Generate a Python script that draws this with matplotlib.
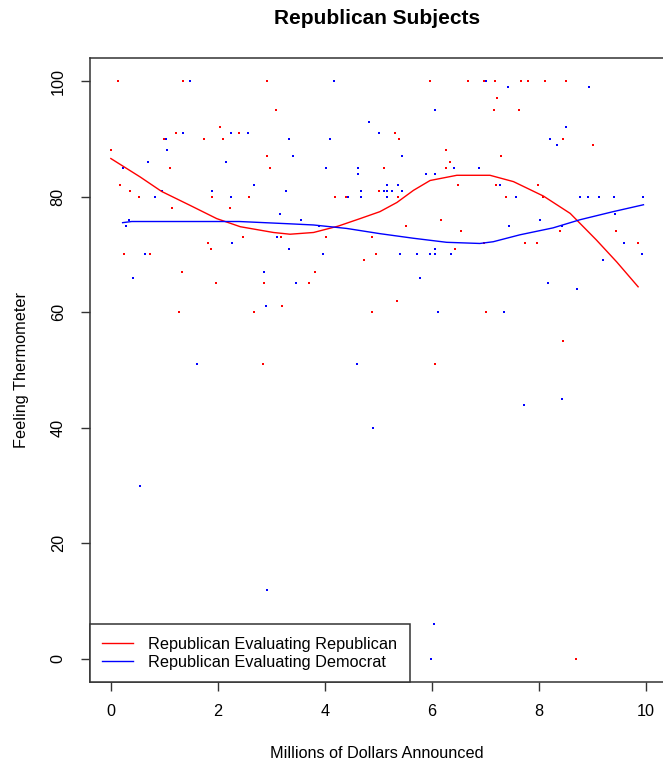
import matplotlib
matplotlib.use("Agg")
import matplotlib.pyplot as plt
from matplotlib.lines import Line2D

plt.rcParams['font.family'] = ['Liberation Sans', 'DejaVu Sans']

# Republican evaluating Republican (red points)
red_x = [0.14, 1.35, 2.92, 3.08, 2.04, 1.21, 2.39, 1.00, 1.74, 2.10, 0.00, 2.92, 1.11, 2.98,
         0.17, 0.35, 0.52, 1.90, 2.59, 1.15, 2.22, 2.47, 3.18, 1.82, 1.88, 0.24, 0.73, 1.33,
         1.96, 2.87, 3.20, 1.27, 2.68,
         5.96, 6.68, 5.31, 5.39, 6.27, 6.34, 5.11, 6.27, 6.49, 4.20, 4.40, 5.01, 5.37, 5.51,
         6.18, 6.55, 4.02, 4.89, 6.44, 4.95, 4.73, 3.81, 3.71, 5.35, 4.88,
         6.98, 7.18, 7.67, 7.81, 8.12, 8.52, 7.22, 7.16, 7.63, 8.46, 9.01, 7.30, 7.20, 7.99,
         7.39, 8.09, 8.40, 9.44, 6.98, 7.75, 7.97, 9.86, 7.02, 8.46,
         2.85, 6.06, 8.70]
red_y = [100, 100, 100, 95, 92, 91, 91, 90, 90, 90, 88, 87, 85, 85,
         82, 81, 80, 80, 80, 78, 78, 73, 73, 72, 71, 70, 70, 67,
         65, 65, 61, 60, 60,
         100, 100, 91, 90, 88, 86, 85, 85, 82, 80, 80, 81, 80, 75,
         76, 74, 73, 73, 71, 70, 69, 67, 65, 62, 60,
         100, 100, 100, 100, 100, 100, 97, 95, 95, 90, 89, 87, 82, 82,
         80, 80, 74, 74, 72, 72, 72, 72, 60, 55,
         51, 51, 0]

# Republican evaluating Democrat (blue points)
blue_x = [1.48, 1.35, 2.24, 2.57, 1.03, 3.33, 1.05, 0.70, 2.16, 0.22, 0.95, 1.90, 2.67, 3.28,
          0.83, 2.25, 3.16, 0.34, 0.28, 2.27, 3.10, 3.33, 0.64, 0.42, 2.87, 2.90,
          4.17, 6.06, 4.82, 5.01, 4.10, 3.40, 5.45, 4.03, 4.62, 4.62, 6.41, 6.88, 5.90, 6.06,
          5.17, 5.37, 4.68, 5.10, 5.17, 5.25, 5.45, 4.44, 4.68, 5.17, 3.56, 3.89, 3.97, 5.41,
          5.72, 5.96, 6.06, 6.06, 6.37, 3.46, 5.78, 6.12,
          7.02, 7.42, 8.95, 8.52, 8.22, 8.34, 7.28, 7.58, 8.78, 8.92, 9.13, 9.41, 9.96, 7.44,
          8.02, 9.43, 8.43, 9.60, 9.94, 9.21, 8.17, 8.72, 7.36,
          1.62, 4.60, 7.73, 8.43, 4.91, 0.54, 2.92, 6.04, 5.98]
blue_y = [100, 91, 91, 91, 90, 90, 88, 86, 86, 85, 81, 81, 82, 81,
          80, 80, 77, 76, 75, 72, 73, 71, 70, 66, 67, 61,
          100, 95, 93, 91, 90, 87, 87, 85, 85, 84, 85, 85, 84, 84,
          82, 82, 81, 81, 81, 81, 81, 80, 80, 80, 76, 75, 70, 70,
          70, 70, 70, 71, 70, 65, 66, 60,
          100, 99, 99, 92, 90, 89, 82, 80, 80, 80, 80, 80, 80, 75,
          76, 77, 75, 72, 70, 69, 65, 64, 60,
          51, 51, 44, 45, 40, 30, 12, 6, 0]

# Loess smooth curves
red_curve_x = [0.00, 0.55, 0.95, 1.48, 1.98, 2.42, 3.04, 3.35, 3.79, 4.25, 4.66, 5.03, 5.35,
               5.66, 5.97, 6.47, 6.90, 7.09, 7.53, 8.09, 8.59, 9.08, 9.46, 9.86]
red_curve_y = [86.6, 83.4, 80.9, 78.5, 76.2, 74.8, 73.8, 73.5, 73.8, 74.9, 76.2, 77.4, 79.0,
               81.1, 82.8, 83.7, 83.7, 83.7, 82.6, 80.1, 77.1, 72.5, 68.7, 64.4]
blue_curve_x = [0.22, 0.39, 2.40, 3.35, 3.79, 4.41, 5.03, 5.66, 6.28, 6.90, 7.15, 7.65, 8.27,
                8.77, 9.39, 9.96]
blue_curve_y = [75.5, 75.7, 75.7, 75.3, 75.1, 74.5, 73.6, 72.8, 72.1, 71.9, 72.2, 73.4, 74.6,
                76.0, 77.4, 78.6]

title = "Republican Subjects"
xlabel = "Millions of Dollars Announced"
ylabel = "Feeling Thermometer"
legend_labels = ["Republican Evaluating Republican", "Republican Evaluating Democrat"]
xticks = [0, 2, 4, 6, 8, 10]
yticks = [0, 20, 40, 60, 80, 100]

W, H = 663, 769
fs = 11.7
fig = plt.figure(figsize=(W / 100, H / 100), dpi=100)
ax = fig.add_axes([90 / W, (H - 682) / H, (667 - 90) / W, (682 - 58) / H])

ax.scatter(red_x, red_y, s=2.6, marker='s', color='#FF0000', linewidths=0)
ax.scatter(blue_x, blue_y, s=2.6, marker='s', color='#0000FF', linewidths=0)
ax.plot(red_curve_x, red_curve_y, color='#FF0000', lw=1.0)
ax.plot(blue_curve_x, blue_curve_y, color='#0000FF', lw=1.0)

ax.set_xlim(-0.39, 10.4)
ax.set_ylim(-4, 104)
ax.set_xticks(xticks)
ax.set_yticks(yticks)
ax.set_xticklabels([str(t) for t in xticks], fontsize=fs)
ax.set_yticklabels([str(t) for t in yticks], fontsize=fs, rotation=90, va='center')
ax.tick_params(direction='out', length=6.5, width=1, color='#333333')
ax.tick_params(axis='x', pad=9.5)
ax.tick_params(axis='y', pad=11)
for sp in ax.spines.values():
    sp.set_color('#333333')
    sp.set_linewidth(1.1)

fig.text(377 / W, 1 - 18 / H, title, ha='center', va='center', fontsize=15, fontweight='bold')
fig.text(377 / W, 1 - 754 / H, xlabel, ha='center', va='center', fontsize=fs)
fig.text(22 / W, 1 - 370 / H, ylabel, ha='center', va='center', fontsize=fs, rotation=90)

handles = [Line2D([], [], color='#FF0000', lw=1.0), Line2D([], [], color='#0000FF', lw=1.0)]
leg = ax.legend(handles, legend_labels, loc='lower left', bbox_to_anchor=(0, 0),
                borderaxespad=0, fontsize=fs, frameon=True, fancybox=False,
                handlelength=1.9, handletextpad=0.95, labelspacing=0.2,
                borderpad=0.75)
leg.get_frame().set_edgecolor('#333333')
leg.get_frame().set_linewidth(1.1)
leg.get_frame().set_alpha(1)

fig.savefig("out.png", dpi=100)
